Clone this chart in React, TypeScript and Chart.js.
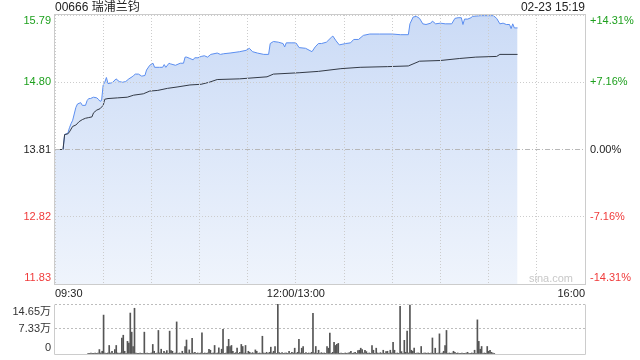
import React, { useEffect, useRef } from 'react';
import { Chart, registerables } from 'chart.js';
Chart.register(...registerables);

const FONT = '"Liberation Sans", Arial, "Noto Sans CJK SC", sans-serif';

const stockTitle = '00666 瑞浦兰钧';
const stampText = '02-23 15:19';
const watermark = 'sina.com';

const priceMin = 11.83;
const priceMax = 15.79;
const basePrice = 13.81;
const priceTicks = [15.79, 14.8, 13.81, 12.82, 11.83];
const priceTickLabels = ['15.79', '14.80', '13.81', '12.82', '11.83'];
const priceTickColors = ['#1ea01e', '#1ea01e', '#222222', '#f03a3a', '#f03a3a'];
const pctLabels = ['+14.31%', '+7.16%', '0.00%', '-7.16%', '-14.31%'];

const totalMinutes = 330;
const timeTickMinutes = [0, 150, 330];
const timeTickLabels = ['09:30', '12:00/13:00', '16:00'];

const priceMinutes = [
  0, 5, 6, 8, 9, 10, 11, 13, 14, 16, 17, 19, 20, 21, 22, 24, 26, 27, 28, 29,
  30, 31, 32, 33, 35, 36, 38, 40, 42, 44, 46, 48, 49, 50, 52, 54, 56, 57, 59, 61,
  62, 65, 67, 68, 69, 71, 72, 75, 78, 80, 81, 82, 84, 86, 87, 89, 91, 93, 95, 97,
  99, 101, 103, 105, 109, 115, 119, 121, 123, 126, 130, 133, 134, 136, 139, 142, 143, 144, 147, 150,
  152, 156, 160, 162, 164, 166, 169, 172, 173, 175, 177, 181, 184, 186, 189, 192, 196, 202, 210, 215,
  220, 221, 223, 225, 227, 229, 231, 234, 235, 237, 240, 243, 247, 249, 251, 253, 254, 255, 257, 259,
  260, 265, 269, 273, 275, 277, 279, 281, 283, 284, 285, 286, 288,
];
const priceValues = [
  13.81, 13.81, 14.03, 14.05, 14.13, 14.19, 14.24, 14.43, 14.48, 14.5, 14.46, 14.46, 14.53, 14.56, 14.56, 14.58, 14.57, 14.55, 14.52, 14.53,
  14.76, 14.8, 14.87, 14.78, 14.79, 14.8, 14.85, 14.81, 14.8, 14.81, 14.85, 14.88, 14.9, 14.92, 14.92, 14.89, 14.9, 14.98, 15.05, 15.08,
  15.02, 15.02, 15.02, 15.06, 15.02, 15.08, 15.07, 15.05, 15.08, 15.08, 15.17, 15.17, 15.15, 15.13, 15.16, 15.16, 15.18, 15.19, 15.17, 15.21,
  15.22, 15.23, 15.21, 15.22, 15.23, 15.25, 15.27, 15.3, 15.25, 15.23, 15.21, 15.21, 15.37, 15.4, 15.39, 15.37, 15.32, 15.38, 15.38, 15.38,
  15.31, 15.3, 15.25, 15.32, 15.37, 15.37, 15.39, 15.46, 15.48, 15.41, 15.35, 15.37, 15.38, 15.43, 15.43, 15.49, 15.51, 15.51, 15.51, 15.5,
  15.5, 15.66, 15.76, 15.77, 15.74, 15.66, 15.65, 15.67, 15.7, 15.66, 15.67, 15.66, 15.66, 15.74, 15.75, 15.75, 15.65, 15.73, 15.73, 15.75,
  15.77, 15.78, 15.78, 15.78, 15.74, 15.66, 15.67, 15.65, 15.65, 15.59, 15.66, 15.6, 15.6,
];

const avgMinutes = [
  0, 5, 6, 8, 9, 11, 13, 15, 17, 19, 21, 23, 24, 26, 28, 30, 31, 33, 39, 45,
  49, 55, 59, 64, 70, 76, 84, 91, 96, 101, 115, 132, 136, 152, 164, 178, 190, 207, 220, 227,
  240, 252, 262, 275, 277, 288,
];
const avgValues = [
  13.81, 13.81, 14.03, 14.04, 14.07, 14.15, 14.17, 14.22, 14.25, 14.27, 14.28, 14.29, 14.35, 14.39, 14.41, 14.46, 14.55, 14.56, 14.57, 14.58,
  14.61, 14.63, 14.67, 14.68, 14.71, 14.73, 14.76, 14.77, 14.8, 14.84, 14.85, 14.88, 14.92, 14.94, 14.96, 15.0, 15.02, 15.03, 15.04, 15.11,
  15.12, 15.15, 15.17, 15.18, 15.21, 15.21,
];

// volume per minute (万), minute 0 .. 289
const volValues = [
  0.2, 0.2, 0.3, 0.2, 0.2, 0.3, 0.2, 0.3, 1.3, 0.3,
  0.8, 11.4, 0.3, 0.2, 0.3, 2.5, 0.3, 0.8, 0.2, 1.3,
  2.5, 0.3, 0.2, 0.3, 4.7, 5.5, 0.8, 0.2, 3.7, 3.2,
  12.0, 6.4, 2.2, 13.4, 0.3, 0.2, 0.2, 0.3, 0.2, 0.2,
  6.4, 0.2, 0.3, 0.2, 0.2, 0.3, 2.8, 0.8, 0.2, 0.3,
  6.9, 0.3, 1.4, 0.2, 0.8, 0.3, 1.0, 0.2, 6.7, 1.0,
  0.8, 0.2, 0.3, 9.4, 0.2, 0.3, 0.2, 0.8, 0.2, 2.2,
  4.1, 0.3, 1.2, 0.2, 4.6, 0.3, 0.5, 0.2, 0.3, 0.2,
  0.3, 6.2, 0.2, 0.3, 0.2, 0.3, 1.4, 1.1, 0.2, 0.3,
  2.5, 0.2, 0.3, 1.8, 0.2, 1.4, 7.2, 0.2, 0.3, 2.2,
  4.3, 2.2, 2.5, 0.8, 0.2, 0.4, 1.7, 0.2, 0.5, 2.8,
  2.2, 0.3, 2.5, 0.2, 0.8, 0.5, 0.2, 0.4, 0.2, 1.2,
  0.8, 0.2, 0.3, 0.2, 5.2, 0.3, 0.2, 0.5, 0.2, 0.5,
  2.0, 0.3, 0.8, 2.2, 0.2, 14.65, 0.4, 0.2, 0.4, 0.2,
  0.3, 0.3, 0.2, 0.8, 0.2, 0.5, 0.3, 1.7, 0.2, 0.5,
  4.3, 0.3, 1.7, 2.2, 0.2, 0.4, 0.2, 0.3, 0.2, 0.5,
  11.9, 0.3, 2.2, 0.2, 1.1, 0.2, 0.4, 0.2, 0.3, 0.2,
  2.2, 1.7, 6.1, 0.2, 0.5, 3.4, 2.5, 2.8, 3.1, 0.2,
  0.3, 0.2, 0.2, 0.3, 0.2, 0.3, 0.4, 0.8, 0.2, 0.3,
  0.5, 0.2, 1.0, 1.1, 1.7, 1.3, 0.3, 1.1, 0.7, 0.2,
  0.3, 0.2, 2.5, 1.1, 0.2, 1.7, 0.3, 0.2, 0.4, 0.2,
  1.1, 0.2, 0.7, 0.8, 0.2, 1.1, 0.3, 3.4, 1.1, 0.2,
  0.3, 0.2, 14.0, 0.7, 0.2, 4.0, 0.5, 6.7, 0.3, 14.35,
  1.1, 0.8, 1.7, 0.2, 0.3, 0.3, 0.2, 2.2, 0.2, 0.3,
  0.3, 0.2, 0.3, 0.2, 0.3, 4.7, 0.2, 1.7, 0.2, 0.3,
  5.9, 0.2, 0.3, 0.8, 2.5, 6.9, 0.2, 0.3, 0.2, 0.3,
  0.8, 0.5, 0.2, 0.3, 0.2, 0.2, 0.3, 0.2, 0.2, 0.3,
  0.5, 0.2, 0.2, 0.3, 0.2, 1.1, 0.2, 10.0, 3.7, 1.4,
  2.2, 0.2, 0.3, 0.2, 2.2, 0.8, 1.1, 0.5, 0.3, 0.2,
];
const volMax = 14.65;
const volTicks = [14.65, 7.33, 0];
const volTickLabels = ['14.65万', '7.33万', '0'];

const GRID = '#cccccc';

const mainPlugin = {
  id: 'mainDecor',
  afterDatasetsDraw(chart: any) {
    const { ctx, chartArea } = chart;
    const y = chart.scales.y.getPixelForValue(basePrice);
    ctx.save();
    ctx.strokeStyle = '#b8b8b8';
    ctx.lineWidth = 1;
    ctx.setLineDash([5, 2, 1, 2]);
    ctx.beginPath();
    ctx.moveTo(chartArea.left, Math.round(y) + 0.5);
    ctx.lineTo(chartArea.right, Math.round(y) + 0.5);
    ctx.stroke();
    ctx.restore();
  },
  afterDraw(chart: any) {
    const { ctx, chartArea } = chart;
    const ys = chart.scales.y;
    ctx.save();
    ctx.strokeStyle = GRID;
    ctx.lineWidth = 1;
    ctx.setLineDash([]);
    ctx.strokeRect(
      Math.round(chartArea.left) - 0.5,
      Math.round(chartArea.top) - 0.5,
      Math.round(chartArea.right - chartArea.left) + 1,
      Math.round(chartArea.bottom - chartArea.top) + 1
    );
    ctx.font = `11px ${FONT}`;
    ctx.textBaseline = 'middle';
    priceTicks.forEach((v, i) => {
      let py = ys.getPixelForValue(v);
      py = Math.min(Math.max(py, chartArea.top + 5.5), chartArea.bottom - 6);
      ctx.fillStyle = priceTickColors[i];
      ctx.textAlign = 'right';
      ctx.fillText(priceTickLabels[i], chartArea.left - 4, py);
      ctx.textAlign = 'left';
      ctx.fillText(pctLabels[i], chartArea.right + 5, py);
    });
    ctx.fillStyle = '#222';
    ctx.font = `12px ${FONT}`;
    ctx.textAlign = 'left';
    ctx.fillText(stockTitle, chartArea.left, 8);
    ctx.textAlign = 'right';
    ctx.fillText(stampText, chartArea.right, 8);
    ctx.fillStyle = '#c8c8c8';
    ctx.font = `11px ${FONT}`;
    ctx.fillText(watermark, chartArea.right - 12, chartArea.bottom - 5);
    ctx.restore();
  },
};

const volPlugin = {
  id: 'volDecor',
  afterDraw(chart: any) {
    const { ctx, chartArea } = chart;
    const ys = chart.scales.y;
    ctx.save();
    ctx.strokeStyle = GRID;
    ctx.lineWidth = 1;
    ctx.beginPath();
    const l = Math.round(chartArea.left) - 0.5;
    const r = Math.round(chartArea.right) + 0.5;
    const t = Math.round(chartArea.top) + 0.5;
    const b = Math.round(chartArea.bottom) + 0.5;
    ctx.moveTo(l, t);
    ctx.lineTo(l, b);
    ctx.lineTo(r, b);
    ctx.lineTo(r, t);
    ctx.stroke();
    ctx.font = `11px ${FONT}`;
    ctx.textBaseline = 'middle';
    ctx.textAlign = 'right';
    ctx.fillStyle = '#333';
    volTicks.forEach((v, i) => {
      let py = ys.getPixelForValue(v);
      py = Math.min(Math.max(py, chartArea.top + 7.5), chartArea.bottom - 6);
      ctx.fillText(volTickLabels[i], chartArea.left - 4, py);
    });
    ctx.restore();
  },
};

export default function App() {
  const mainRef = useRef<HTMLCanvasElement>(null);
  const volRef = useRef<HTMLCanvasElement>(null);

  useEffect(() => {
    const priceData = priceMinutes.map((m, i) => ({ x: m, y: priceValues[i] }));
    const avgData = avgMinutes.map((m, i) => ({ x: m, y: avgValues[i] }));
    const volData = volValues.map((v, i) => ({ x: i, y: v }));

    const main = new Chart(mainRef.current!, {
      type: 'line',
      data: {
        datasets: [
          {
            label: 'avg',
            data: avgData,
            borderColor: '#333a46',
            borderWidth: 1,
            pointRadius: 0,
            fill: false,
            tension: 0,
          },
          {
            label: 'price',
            data: priceData,
            borderColor: '#5b8ef0',
            borderWidth: 1,
            pointRadius: 0,
            tension: 0,
            fill: 'start',
            backgroundColor: (c: any) => {
              const { chart } = c;
              const area = chart.chartArea;
              if (!area) return 'rgba(205,220,246,1)';
              const g = chart.ctx.createLinearGradient(0, area.top, 0, area.bottom);
              g.addColorStop(0, '#cbdbf6');
              g.addColorStop(1, '#eff4fc');
              return g;
            },
          },
        ],
      },
      options: {
        animation: false,
        responsive: false,
        devicePixelRatio: 1,
        layout: { padding: { top: 15, right: 55, left: 0, bottom: 0 } },
        plugins: { legend: { display: false }, tooltip: { enabled: false } },
        scales: {
          x: {
            type: 'linear',
            min: 0,
            max: totalMinutes,
            border: { display: false, dash: [1, 2] },
            grid: { color: GRID, drawTicks: false, z: 1 },
            ticks: {
              stepSize: 30,
              autoSkip: false,
              maxRotation: 0,
              align: 'inner',
              padding: 3,
              color: '#222',
              font: { size: 11, family: FONT },
              callback: (v: any) => {
                const idx = timeTickMinutes.indexOf(Number(v));
                return idx >= 0 ? timeTickLabels[idx] : '';
              },
            },
            afterFit: (s: any) => {
              s.height = 16;
            },
          },
          y: {
            min: priceMin,
            max: priceMax,
            border: { display: false, dash: [1, 2] },
            grid: {
              drawTicks: false,
              z: 1,
              color: (c: any) =>
                c.tick && Math.abs(c.tick.value - basePrice) < 0.001 ? 'rgba(0,0,0,0)' : GRID,
            },
            ticks: { display: false },
            afterBuildTicks: (s: any) => {
              s.ticks = priceTicks.map((v) => ({ value: v }));
            },
            afterFit: (s: any) => {
              s.width = 55;
            },
          },
        },
      },
      plugins: [mainPlugin],
    });

    const vol = new Chart(volRef.current!, {
      type: 'bar',
      data: {
        datasets: [
          {
            label: 'vol',
            data: volData,
            backgroundColor: '#555555',
            barThickness: 1,
            grouped: false,
          },
        ],
      },
      options: {
        animation: false,
        responsive: false,
        devicePixelRatio: 1,
        layout: { padding: { top: 4, right: 55, left: 0, bottom: 6 } },
        plugins: { legend: { display: false }, tooltip: { enabled: false } },
        scales: {
          x: {
            type: 'linear',
            min: 0,
            max: totalMinutes,
            display: false,
          },
          y: {
            min: 0,
            max: volMax,
            border: { display: false, dash: [2, 2] },
            grid: {
              drawTicks: false,
              lineWidth: 1,
              color: (c: any) => (c.tick && c.tick.value === 0 ? 'rgba(0,0,0,0)' : '#bdbdbd'),
            },
            ticks: { display: false },
            afterBuildTicks: (s: any) => {
              s.ticks = volTicks.map((v) => ({ value: v }));
            },
            afterFit: (s: any) => {
              s.width = 55;
            },
          },
        },
      },
      plugins: [volPlugin],
    });

    return () => {
      main.destroy();
      vol.destroy();
    };
  }, []);

  return (
    <div style={{ position: 'absolute', left: 0, top: 0, width: 640, height: 360, background: '#fff' }}>
      <canvas ref={mainRef} width={640} height={300} style={{ position: 'absolute', left: 0, top: 0 }} />
      <canvas ref={volRef} width={640} height={60} style={{ position: 'absolute', left: 0, top: 300 }} />
    </div>
  );
}
